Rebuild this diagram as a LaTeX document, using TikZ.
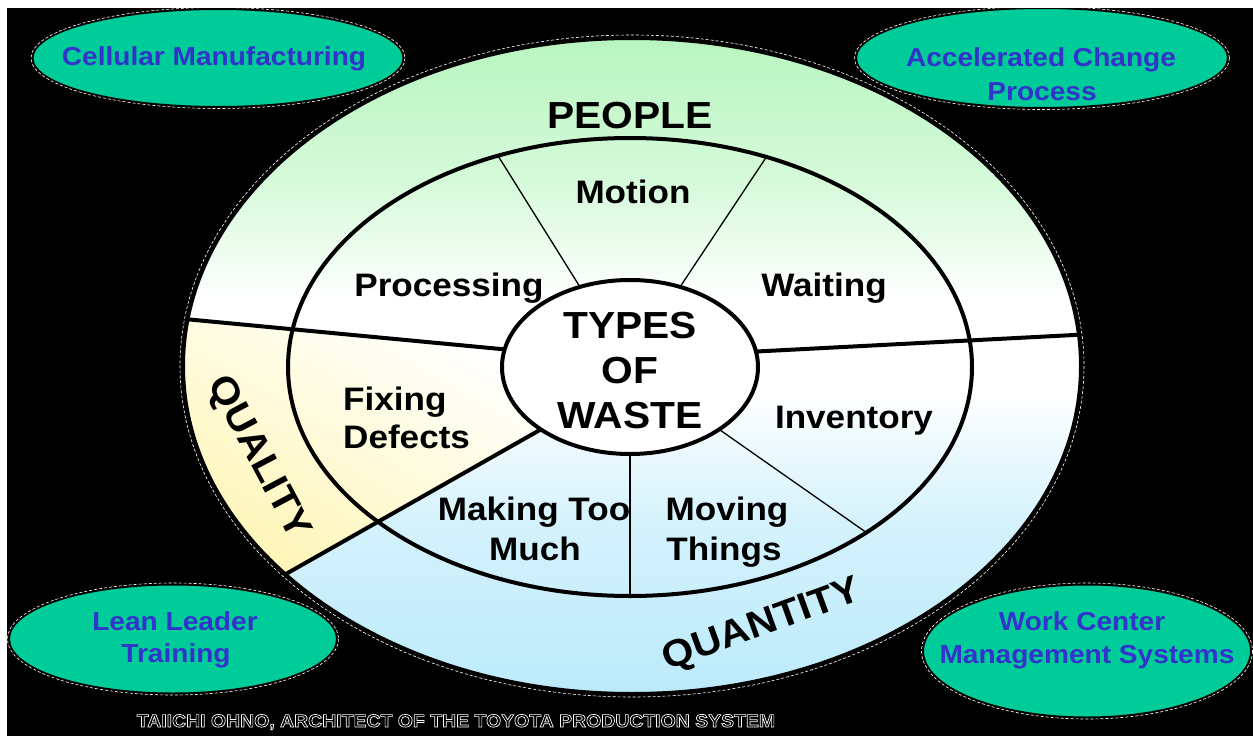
\documentclass[tikz,border=0pt]{standalone}
\usepackage{fontspec}
\setmainfont[FakeStretch=1.08]{Liberation Sans}
\usetikzlibrary{shapes.geometric}
\definecolor{teal1}{RGB}{0,204,153}
\definecolor{lblue}{RGB}{51,51,204}
\definecolor{cgreen}{RGB}{184,245,192}
\definecolor{cgreen2}{RGB}{214,250,218}
\definecolor{cblue}{RGB}{188,234,250}
\definecolor{cblue2}{RGB}{212,242,252}
\definecolor{cyellow}{RGB}{255,243,160}
\pgfdeclareverticalshading{wasteshade}{100bp}{color(0bp)=(cblue); color(25bp)=(cblue); color(38bp)=(cblue2); color(48bp)=(white); color(55bp)=(white); color(64bp)=(cgreen2); color(75bp)=(cgreen); color(100bp)=(cgreen)}
\begin{document}
\begin{tikzpicture}[x=1pt,y=-1pt,
  lbl/.style={font=\fontsize{32.5}{36}\selectfont\bfseries, inner sep=0, anchor=base},
  big/.style={font=\fontsize{37.7}{40}\selectfont\bfseries, inner sep=0, anchor=base},
  oval/.style={ellipse, fill=teal1, draw=black, line width=1pt, inner sep=0, outer sep=0},
  ovaltxt/.style={font=\fontsize{26}{30}\selectfont\bfseries, text=lblue, inner sep=0, anchor=base},
  ring/.style={ellipse, inner sep=0, outer sep=0},
  heavy/.style={line width=4pt},
  fine/.style={line width=1.3pt},
  halo/.style={white, line width=0.6pt, dash pattern=on 3pt off 2pt}]
\useasboundingbox (0,0) rectangle (1253,736);
\fill[white] (0,0) rectangle (1253,736);
\fill[black] (7,8) rectangle (1253,736);

% geometry nodes
\node[ring, minimum width=898pt, minimum height=656pt] (outer) at (632,366) {};
\node[ring, minimum width=684pt, minimum height=458pt] (inner) at (630,367) {};
\node[ring, minimum width=256pt, minimum height=174pt] (coreg) at (630,367) {};

% fills
\shade[shading=wasteshade] (632,366) ellipse [x radius=449, y radius=328];
\begin{scope}
  \clip (632,366) ellipse [x radius=449, y radius=328];
  \shade[top color=white, bottom color=cyellow, shading angle=-30]
    (outer.174.7) -- (coreg.172.4) -- (coreg.215.2) -- (outer.211.2) -- (150,660) -- (100,300) -- cycle;
\end{scope}

% inner ring
\draw[heavy] (630,367) ellipse [x radius=342, y radius=229];
% thin radial lines
\draw[fine] (coreg.122.9) -- (inner.122.5);
\draw[fine] (coreg.58.6) -- (inner.57.3);
\draw[fine] (coreg.270) -- (inner.270);
\draw[fine] (coreg.325.6) -- (inner.325);
% dividers
\draw[heavy] (outer.174.7) -- (coreg.172.4);
\draw[heavy] (coreg.7.6) -- (outer.4.6);
\draw[heavy] (coreg.215.2) -- (outer.211.2);
% core
\node[ring, minimum width=256pt, minimum height=174pt, draw, heavy, fill=white] (core) at (630,367) {};
% outer border
\draw[heavy] (632,366) ellipse [x radius=449, y radius=328];
\draw[halo] (632,366) ellipse [x radius=452, y radius=331];

% labels
\node[big] (people) at (630,128) {PEOPLE};
\node[lbl] (motion) at (633,203) {Motion};
\node[lbl] (proc) at (449,296) {Processing};
\node[lbl] (wait) at (824,296) {Waiting};
\node[big] (t1) at (630,338) {TYPES};
\node[big] (t2) at (630,383) {OF};
\node[big] (t3) at (630,428) {WASTE};
\node[lbl, anchor=base west] (fix1) at (343,410) {Fixing};
\node[lbl, anchor=base west] (fix2) at (343,448) {Defects};
\node[lbl] (inv) at (854,428) {Inventory};
\node[lbl] (mk1) at (534,520) {Making Too};
\node[lbl] (mk2) at (535,560) {Much};
\node[lbl] (mv1) at (727,520) {Moving};
\node[lbl] (mv2) at (724,560) {Things};
\node[big, rotate=-62, anchor=center] (qual) at (258,458) {QUALITY};
\node[big, rotate=20, anchor=center] (quan) at (762,626) {QUANTITY};

% side ovals
\node[oval, minimum width=370pt, minimum height=97pt] (cm) at (218,58) {};
\node[oval, minimum width=371pt, minimum height=99pt] (acp) at (1042,58) {};
\node[oval, minimum width=327pt, minimum height=108pt] (llt) at (173,639) {};
\node[oval, minimum width=327pt, minimum height=132pt] (wcm) at (1087,651) {};
\draw[halo] (cm.center) ellipse [x radius=187, y radius=50.5];
\draw[halo] (acp.center) ellipse [x radius=187.5, y radius=51.5];
\draw[halo] (llt.center) ellipse [x radius=165.5, y radius=56];
\draw[halo] (wcm.center) ellipse [x radius=165.5, y radius=68];
\node[ovaltxt] (cmt) at (214,65) {Cellular Manufacturing};
\node[ovaltxt] (acpt1) at (1041,66) {Accelerated Change};
\node[ovaltxt] (acpt2) at (1042,100) {Process};
\node[ovaltxt] (llt1) at (175,630) {Lean Leader};
\node[ovaltxt] (llt2) at (176,662) {Training};
\node[ovaltxt] (wcm1) at (1082,630) {Work Center};
\node[ovaltxt] (wcm2) at (1087,663) {Management Systems};

% caption
\node[font=\fontsize{18}{20}\selectfont\bfseries, text=white, inner sep=0, anchor=base] (cap) at (456,727)
  {\special{pdf:literal direct 1 Tr 0.7 w 1 1 1 RG}TAIICHI OHNO, ARCHITECT OF THE TOYOTA PRODUCTION SYSTEM\special{pdf:literal direct 0 Tr}};
\end{tikzpicture}
\end{document}
